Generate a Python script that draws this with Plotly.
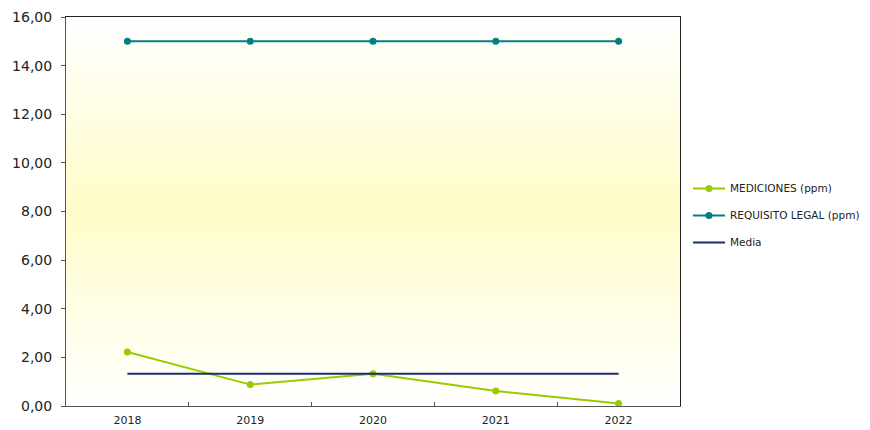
import base64
import plotly.graph_objects as go

years = ["2018", "2019", "2020", "2021", "2022"]
mediciones = [2.22, 0.88, 1.33, 0.62, 0.10]
requisito = [15, 15, 15, 15, 15]
media = [1.33, 1.33, 1.33, 1.33, 1.33]

svg = (
    '<svg xmlns="http://www.w3.org/2000/svg" width="100" height="100" preserveAspectRatio="none">'
    '<defs><linearGradient id="g" x1="0" y1="0" x2="0" y2="1">'
    '<stop offset="0" stop-color="#ffffff"/>'
    '<stop offset="0.49" stop-color="#fffcc9"/>'
    '<stop offset="1" stop-color="#ffffff"/>'
    '</linearGradient></defs>'
    '<rect width="100" height="100" fill="url(#g)"/></svg>'
)
src = "data:image/svg+xml;base64," + base64.b64encode(svg.encode()).decode()

fig = go.Figure()
fig.add_trace(go.Scatter(
    x=years, y=mediciones, mode="lines+markers", name="MEDICIONES (ppm)",
    line=dict(color="#99cc00", width=2), marker=dict(size=7, color="#99cc00"),
    legendgroup="a"))
fig.add_trace(go.Scatter(
    x=years, y=requisito, mode="lines+markers", name="REQUISITO LEGAL (ppm)",
    line=dict(color="#008080", width=2), marker=dict(size=7, color="#008080"),
    legendgroup="b"))
fig.add_trace(go.Scatter(
    x=years, y=media, mode="lines", name="Media",
    line=dict(color="#1a2f6b", width=2), legendgroup="c"))

fig.update_layout(
    width=862, height=422,
    margin=dict(l=58, r=190, t=9, b=24, autoexpand=False),
    paper_bgcolor="white",
    plot_bgcolor="rgba(0,0,0,0)",
    separators=",.",
    font=dict(family="DejaVu Sans", color="#222222"),
    images=[dict(source=src, xref="paper", yref="paper", x=0, y=1,
                 sizex=1, sizey=1, sizing="stretch", layer="below",
                 xanchor="left", yanchor="top")],
    legend=dict(x=1.013, y=0.49, xanchor="left", yanchor="middle",
                font=dict(size=10.5, color="#222222"), itemwidth=32,
                tracegroupgap=8, traceorder="grouped",
                bgcolor="rgba(0,0,0,0)"),
    xaxis=dict(type="category", range=[-0.5, 4.5], tickson="boundaries",
               ticks="inside", ticklen=4, tickcolor="#555555",
               showline=True, linecolor="#555555", linewidth=1, mirror=False,
               showgrid=False, tickfont=dict(size=11, color="#222222"),
               ticklabelstandoff=4, automargin=False, fixedrange=True),
    xaxis2=dict(overlaying="x", showline=True, linecolor="#222222", side="top",
                showticklabels=False, ticks="", showgrid=False,
                range=[0, 1], visible=True, automargin=False),
    yaxis=dict(range=[0, 16], dtick=2, tickformat=".2f", ticks="outside",
               ticklen=4, tickcolor="#555555", showline=True,
               linecolor="#555555", linewidth=1, showgrid=False,
               zeroline=False, automargin=False, ticklabelstandoff=6,
               ticklabeloverflow="allow",
               tickfont=dict(size=14, color="#222222")),
    yaxis2=dict(overlaying="y", side="right", showline=True, linecolor="#222222",
                showticklabels=False, ticks="", showgrid=False, range=[0, 1],
                zeroline=False, automargin=False),
)
fig.add_trace(go.Scatter(x=[None], y=[None], xaxis="x2", yaxis="y2",
                         showlegend=False, hoverinfo="skip"))

fig.write_html("out.html")
